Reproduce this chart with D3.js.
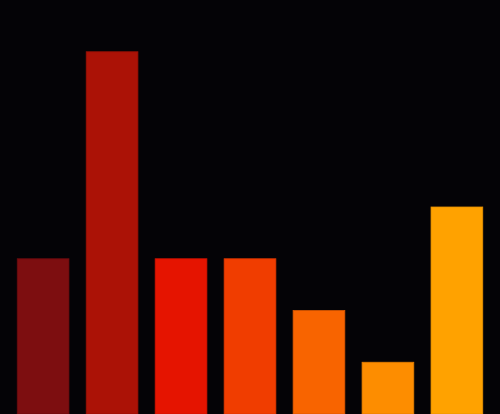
<html>
<head>
    <meta charset="utf-8" />
    <script src="https://cdn.jsdelivr.net/npm/d3@7/dist/d3.min.js"></script>
    <style>
        html, body { margin: 0; padding: 0; background: #040306; }
        svg { display: block; }
    </style>
</head>
<body>
    <svg id="chart" width="500" height="414"></svg>
    <script>
        var categories = ["a", "b", "c", "d", "e", "f", "g"];
        var values = [3, 7, 3, 3, 2, 1, 4];
        var colors = ["#7d0e10", "#ab1206", "#e51400", "#f03d00", "#f86400", "#fd8d00", "#ffa200"];
        var strokes = ["#6a0c0e", "#961005", "#cc1200", "#d93600", "#d85600", "#e07c00", "#e69100"];

        var width = 500, height = 414;
        var svg = d3.select("#chart");

        svg.append("rect")
            .attr("width", width)
            .attr("height", height)
            .attr("fill", "#040306");

        var x = d3.scaleBand()
            .domain(categories)
            .range([0, width])
            .paddingInner(0.25)
            .paddingOuter(0.25);

        var y = d3.scaleLinear()
            .domain([0, 8])
            .range([height, 0]);

        svg.selectAll("rect.bar")
            .data(values)
            .enter()
            .append("rect")
            .classed("bar", true)
            .attr("x", function(d, i) { return x(categories[i]); })
            .attr("y", function(d) { return y(d); })
            .attr("width", x.bandwidth())
            .attr("height", function(d) { return height - y(d); })
            .attr("fill", function(d, i) { return colors[i]; })
            .attr("stroke", function(d, i) { return strokes[i]; })
            .attr("stroke-width", 0.8);
    </script>
</body>
</html>
